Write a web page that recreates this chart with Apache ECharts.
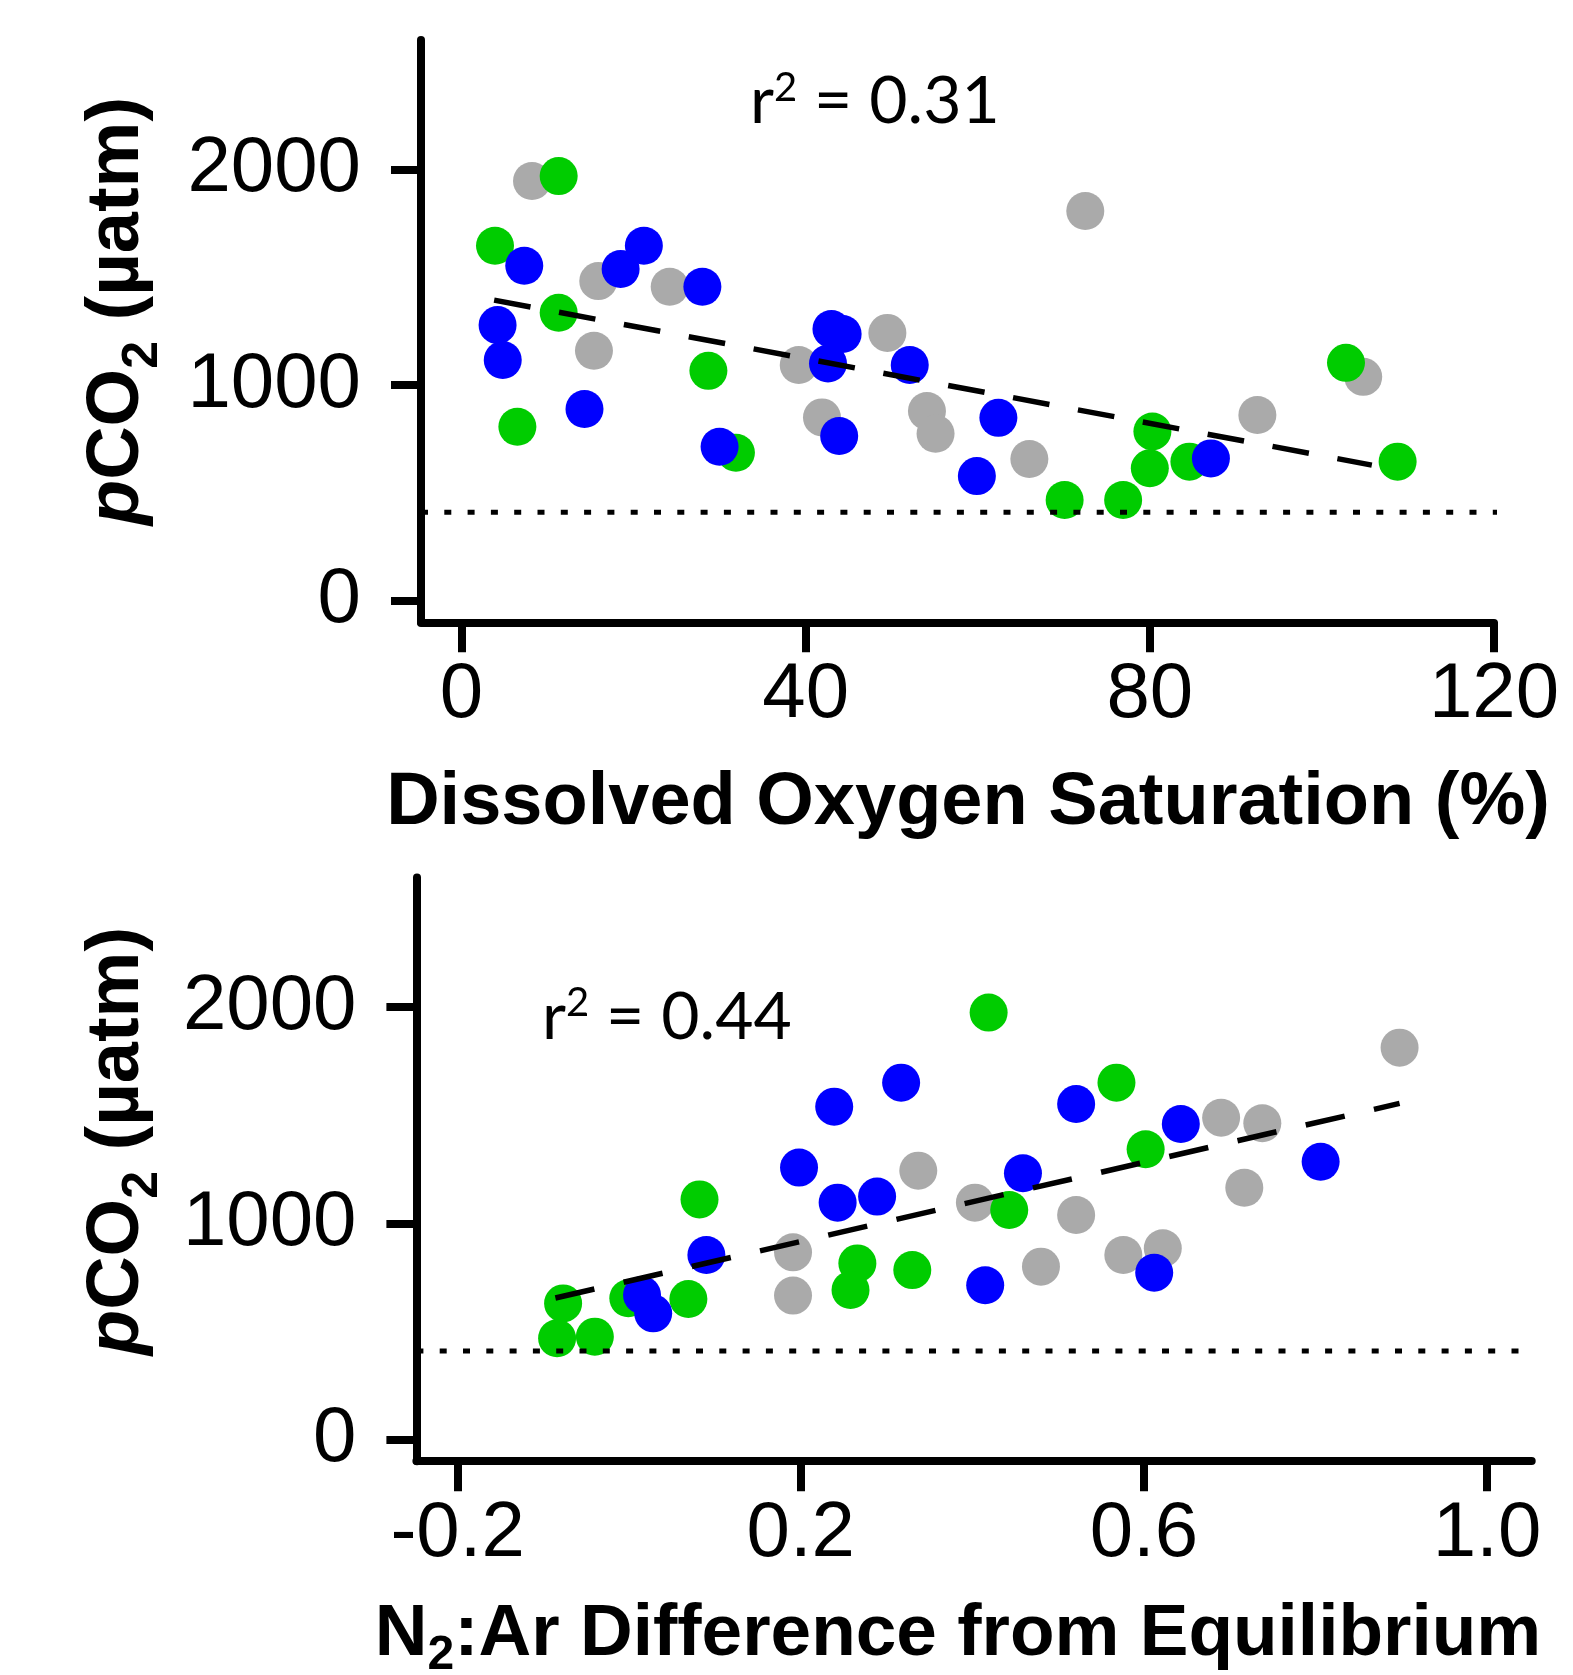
<!DOCTYPE html>
<html>
<head>
<meta charset="utf-8">
<script src="https://cdn.jsdelivr.net/npm/echarts@6/dist/echarts.min.js"></script>
<style>
html,body{margin:0;padding:0;background:#ffffff;}
#chart{width:1573px;height:1675px;}
</style>
</head>
<body>
<div id="chart"></div>
<script>
// ---------- DATA ----------
// Top panel: Dissolved oxygen saturation (%) vs pCO2 (µatm)
const doGray = [[8.2,1946],[15.9,1482],[24.2,1456],[15.4,1159],[39.2,1093],[41.9,850],[49.5,1242],[54.1,880],[55.1,774],[66.0,657],[72.5,1807],[92.5,861],[104.8,1038]];
const doGreen = [[11.3,1969],[3.9,1646],[11.3,1335],[6.5,807],[28.7,1066],[31.9,686],[70.1,467],[76.9,467],[80.3,785],[80.0,614],[84.6,645],[102.8,1103],[108.8,645]];
const doBlue = [[7.3,1553],[18.5,1538],[21.2,1646],[28.0,1456],[4.2,1278],[4.8,1116],[14.3,889],[30.0,714],[43.0,1260],[44.3,1237],[42.6,1100],[43.9,764],[52.1,1093],[62.4,848],[59.9,578],[87.1,660]];
const doTrend = [[3.8,1394],[105.8,629]];
const doAtm = [[-4.7,410],[123.9,410]];
const doR2 = '0.31';

// Bottom panel: N2:Ar difference from equilibrium vs pCO2 (µatm)
const n2Gray = [[0.337,1244],[0.191,866],[0.191,666],[0.403,1096],[0.898,1813],[0.690,1489],[0.738,1463],[0.717,1165],[0.521,1039],[0.480,800],[0.576,854],[0.622,885]];
const n2Green = [[0.082,1111],[0.266,815],[0.258,692],[0.330,784],[0.069,650],[-0.001,654],[-0.077,630],[-0.084,469],[-0.040,476],[0.419,1975],[0.568,1651],[0.602,1343],[0.443,1062]];
const n2Blue = [[0.198,1258],[0.239,1540],[0.317,1651],[0.243,1096],[0.289,1124],[0.090,854],[0.015,669],[0.028,584],[0.521,1552],[0.643,1460],[0.806,1285],[0.459,1232],[0.415,714],[0.612,772]];
const n2Trend = [[-0.086,655],[0.898,1555]];
const n2Atm = [[-0.248,410],[1.039,410]];
const n2R2 = '0.44';

// Tick labels
const yTicks = [0, 1000, 2000];
const doTicks = [0, 40, 80, 120];
const n2Ticks = [-0.2, 0.2, 0.6, 1.0];

// ---------- STYLE ----------
const ARIAL = "'Liberation Sans', Arial, Helvetica, sans-serif";
const C_GRAY = '#AAAAAA', C_GREEN = '#00CC00', C_BLUE = '#0000FF';

function yAxisDef(gi) {
  return {
    type: 'value', gridIndex: gi, min: -100, max: 2600,
    axisLine: { show: true, onZero: false, lineStyle: { color: '#000', width: 8 } },
    axisTick: { show: true, inside: false, length: 30, customValues: yTicks, lineStyle: { color: '#000', width: 8 } },
    axisLabel: { show: true, customValues: yTicks, margin: 60, fontSize: 78, color: '#000', fontFamily: ARIAL,
                 formatter: v => String(Math.round(v)) },
    splitLine: { show: false }
  };
}
function xAxisDef(gi, min, max, ticks, fmt) {
  return {
    type: 'value', gridIndex: gi, min: min, max: max,
    axisLine: { show: true, onZero: false, lineStyle: { color: '#000', width: 8 } },
    axisTick: { show: true, inside: false, length: 30, customValues: ticks, lineStyle: { color: '#000', width: 8 } },
    axisLabel: { show: true, customValues: ticks, margin: 34, fontSize: 78, color: '#000', fontFamily: ARIAL, formatter: fmt },
    splitLine: { show: false }
  };
}
function scatter(gi, data, color) {
  return { type: 'scatter', xAxisIndex: gi, yAxisIndex: gi, data: data, symbol: 'circle', symbolSize: 38,
           itemStyle: { color: color, opacity: 1 }, silent: true };
}
function line(gi, data, width, dash, clip) {
  return { type: 'line', xAxisIndex: gi, yAxisIndex: gi, data: data, symbol: 'none', clip: clip, silent: true,
           lineStyle: { color: '#000', width: width, type: dash } };
}

const bold = { fontFamily: ARIAL, fontWeight: 'bold', fill: '#000' };

const option = {
  backgroundColor: '#ffffff',
  animation: false,
  grid: [
    { left: 421, top: 40, width: 1073, height: 582.3, containLabel: false, outerBoundsMode: 'none' },
    { left: 416.4, top: 877.5, width: 1115.3, height: 583.7, containLabel: false, outerBoundsMode: 'none' }
  ],
  xAxis: [
    xAxisDef(0, -4.7, 120, doTicks, v => String(Math.round(v))),
    xAxisDef(1, -0.248, 1.052, n2Ticks, v => v.toFixed(1))
  ],
  yAxis: [yAxisDef(0), yAxisDef(1)],
  series: [
    scatter(0, doGray, C_GRAY), scatter(0, doGreen, C_GREEN), scatter(0, doBlue, C_BLUE),
    line(0, doTrend, 5.5, [37, 29], true), line(0, doAtm, 5, [7, 16.3], false),
    scatter(1, n2Gray, C_GRAY), scatter(1, n2Green, C_GREEN), scatter(1, n2Blue, C_BLUE),
    line(1, n2Trend, 5.5, [40, 30], true), line(1, n2Atm, 5, [7, 16.3], false)
  ],
  graphic: [
    // y-axis titles
    { type: 'text', x: 124.6, y: 311, rotation: Math.PI / 2, silent: true,
      style: { text: '{i|p}{m|CO}{s|2}{m| (µatm)}', align: 'center', verticalAlign: 'middle',
        rich: {
          i: Object.assign({ fontSize: 74, fontStyle: 'italic', verticalAlign: 'top', lineHeight: 74 }, bold),
          m: Object.assign({ fontSize: 74, verticalAlign: 'top', lineHeight: 74 }, bold),
          s: Object.assign({ fontSize: 50, verticalAlign: 'bottom', lineHeight: 88 }, bold)
        } } },
    { type: 'text', x: 124.6, y: 1141, rotation: Math.PI / 2, silent: true,
      style: { text: '{i|p}{m|CO}{s|2}{m| (µatm)}', align: 'center', verticalAlign: 'middle',
        rich: {
          i: Object.assign({ fontSize: 74, fontStyle: 'italic', verticalAlign: 'top', lineHeight: 74 }, bold),
          m: Object.assign({ fontSize: 74, verticalAlign: 'top', lineHeight: 74 }, bold),
          s: Object.assign({ fontSize: 50, verticalAlign: 'bottom', lineHeight: 88 }, bold)
        } } },
    // x-axis titles
    { type: 'text', x: 968, y: 804, silent: true,
      style: Object.assign({ text: 'Dissolved Oxygen Saturation (%)', fontSize: 74, align: 'center', verticalAlign: 'middle' }, bold) },
    { type: 'text', x: 958, y: 1639, silent: true,
      style: { text: '{m|N}{s|2}{m|:Ar Difference from Equilibrium}', align: 'center', verticalAlign: 'middle',
        rich: {
          m: Object.assign({ fontSize: 73, verticalAlign: 'top', lineHeight: 73 }, bold),
          s: Object.assign({ fontSize: 48, verticalAlign: 'bottom', lineHeight: 82 }, bold)
        } } },
    // r-squared annotations
    { type: 'text', x: 750, y: 101.5, silent: true,
      style: { text: '{m|r}{p|2}{m| = ' + doR2 + '}', align: 'left', verticalAlign: 'middle',
        rich: {
          m: { fontSize: 66, fontFamily: 'Lato, "Open Sans", sans-serif', fill: '#000', verticalAlign: 'bottom', lineHeight: 67 },
          p: { fontSize: 40, fontFamily: 'Lato, "Open Sans", sans-serif', fill: '#000', verticalAlign: 'top', lineHeight: 40 }
        } } },
    { type: 'text', x: 542, y: 1017, silent: true,
      style: { text: '{m|r}{p|2}{m| = ' + n2R2 + '}', align: 'left', verticalAlign: 'middle',
        rich: {
          m: { fontSize: 66, fontFamily: 'Lato, "Open Sans", sans-serif', fill: '#000', verticalAlign: 'bottom', lineHeight: 67 },
          p: { fontSize: 40, fontFamily: 'Lato, "Open Sans", sans-serif', fill: '#000', verticalAlign: 'top', lineHeight: 40 }
        } } }
  ]
};

const chart = echarts.init(document.getElementById('chart'), null, { renderer: 'canvas', width: 1573, height: 1675 });
chart.setOption(option);
</script>
</body>
</html>
